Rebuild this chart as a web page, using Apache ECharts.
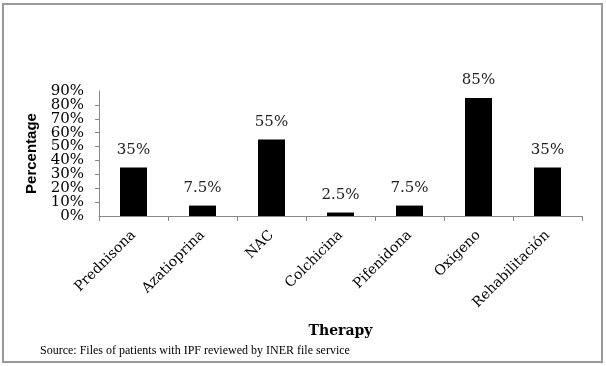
<!DOCTYPE html>
<html>
<head>
<meta charset="utf-8">
<script src="https://cdn.jsdelivr.net/npm/echarts@6/dist/echarts.min.js"></script>
<style>html,body{margin:0;padding:0;background:#fff;}#c{width:606px;height:366px;}</style>
</head>
<body>
<div id="c"></div>
<script>
var categories = ['Prednisona','Azatioprina','NAC','Colchicina','Pifenidona','Oxigeno','Rehabilitación'];
var values = [35, 7.5, 55, 2.5, 7.5, 85, 35];
var yTicks = [0,10,20,30,40,50,60,70,80,90];
var yMin = 0, yMax = 90;

var labelStyle = {margin:15, fontFamily:'DejaVu Serif', fontSize:15, color:'#000'};

var chart = echarts.init(document.getElementById('c'), null, {renderer:'canvas'});
chart.setOption({
  animation:false,
  backgroundColor:'#fff',
  graphic:[
    {type:'rect', shape:{x:3,y:4,width:599,height:358}, style:{fill:'none', stroke:'#999', lineWidth:2}},
    {type:'text', left:40, top:345, style:{text:'Source: Files of patients with IPF reviewed by INER file service', font:'12px "Liberation Serif"', fill:'#000'}}
  ],
  grid:{left:99, right:24, top:91, bottom:150, containLabel:false},
  xAxis:{
    type:'category', data:categories,
    name:'Therapy', nameLocation:'middle', nameGap:108,
    nameTextStyle:{fontFamily:'DejaVu Serif', fontWeight:'bold', fontSize:14, color:'#000'},
    axisLine:{lineStyle:{color:'#888', width:1}},
    axisTick:{show:true, length:5, lineStyle:{color:'#888'}, alignWithLabel:false},
    axisLabel:{rotate:45, interval:0, margin:17, fontFamily:'DejaVu Serif', fontSize:14, color:'#000'}
  },
  yAxis:[{
    type:'value', min:yMin, max:yMax, interval:10, position:'left',
    name:'Percentage', nameLocation:'middle', nameGap:48,
    nameTextStyle:{fontFamily:'Liberation Sans', fontWeight:'bold', fontSize:15, color:'#000'},
    axisLine:{show:true, lineStyle:{color:'#888'}},
    axisTick:{show:true, length:4, lineStyle:{color:'#888'}},
    splitLine:{show:false},
    axisLabel:Object.assign({showMinLabel:false, showMaxLabel:false,
      formatter:function(v){ return yTicks.indexOf(v) >= 0 ? v + '%' : ''; }}, labelStyle)
  },{
    type:'value', min:yMin, max:yMax, interval:10, position:'left', offset:0,
    axisLine:{show:false}, axisTick:{show:false}, splitLine:{show:false},
    axisLabel:Object.assign({showMinLabel:true, showMaxLabel:true,
      formatter:function(v){ return (v === yMin || v === yMax) ? v + '%' : ''; }}, labelStyle)
  }],
  series:[{
    type:'bar', data:values, barWidth:27, yAxisIndex:0,
    itemStyle:{color:'#000'},
    label:{show:true, position:'top', distance:10, fontFamily:'DejaVu Serif', fontSize:15, color:'#222',
      formatter:function(p){ return p.value + '%'; }}
  }]
});
</script>
</body>
</html>
